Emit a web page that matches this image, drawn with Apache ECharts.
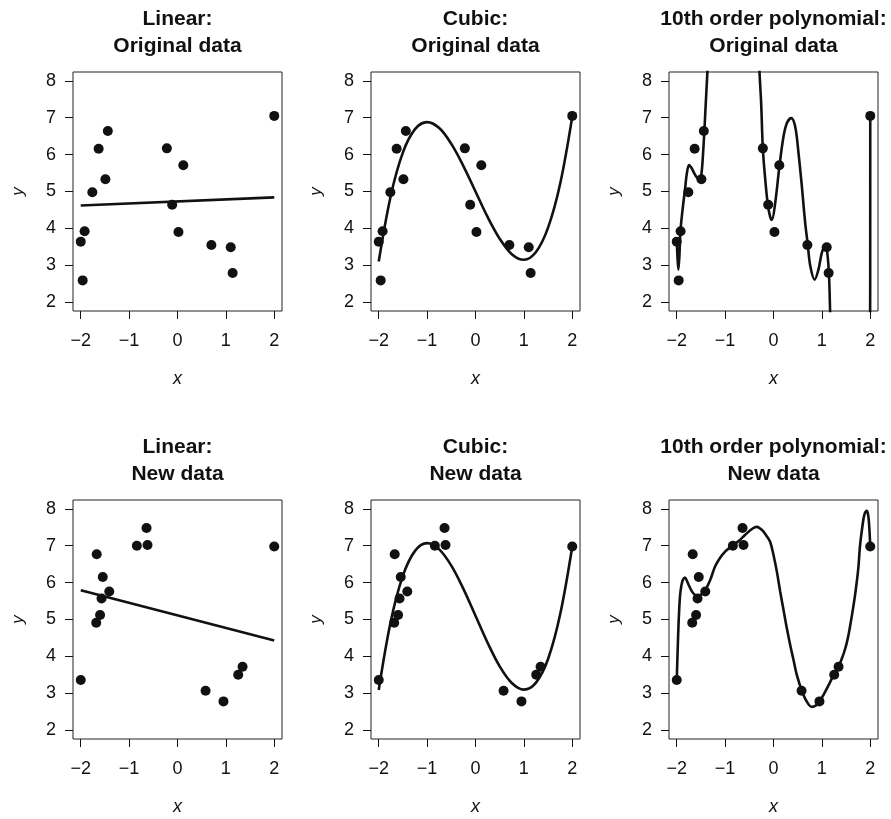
<!DOCTYPE html>
<html><head><meta charset="utf-8">
<script src="https://cdn.jsdelivr.net/npm/echarts@6/dist/echarts.min.js"></script>
<style>html,body{margin:0;padding:0;background:#fff}#c{width:891px;height:819px}</style>
</head><body><div id="c"></div>
<script>
// ---------- data ----------
const panelTitles = [
  ["Linear:", "Original data"], ["Cubic:", "Original data"], ["10th order polynomial:", "Original data"],
  ["Linear:", "New data"], ["Cubic:", "New data"], ["10th order polynomial:", "New data"]
];
const xTicks = [-2, -1, 0, 1, 2];
const yTicks = [2, 3, 4, 5, 6, 7, 8];

const origX = [-2.00, -1.92, -1.96, -1.76, -1.63, -1.49, -1.44, -0.22, -0.11, 0.02, 0.12, 0.70, 1.10, 1.14, 2.00];
const origY = [3.64, 3.92, 2.59, 4.98, 6.16, 5.33, 6.64, 6.17, 4.64, 3.90, 5.71, 3.55, 3.49, 2.79, 7.05];

const newX = [-2.00, -1.67, -1.68, -1.60, -1.57, -1.545, -1.41, -0.84, -0.64, -0.62, 0.58, 0.95, 1.255, 1.345, 2.00];
const newY = [3.36, 6.77, 4.91, 5.12, 5.57, 6.15, 5.76, 7.00, 7.48, 7.02, 3.07, 2.78, 3.50, 3.72, 6.98];

const linearX = [-2, 2];
const linearOrigY = [4.62, 4.84];
const linearNewY = [5.79, 4.43];

const cubicX = [-2, -1.75, -1.5, -1.25, -1, -0.75, -0.5, -0.25, 0, 0.25, 0.5, 0.75, 1, 1.25, 1.5, 1.75, 2];
const cubicOrigY = [3.10, 4.89, 6.06, 6.69, 6.88, 6.72, 6.29, 5.69, 5.00, 4.31, 3.72, 3.30, 3.15, 3.36, 4.02, 5.21, 7.03];
const cubicNewY = [3.09, 4.96, 6.19, 6.86, 7.07, 6.90, 6.46, 5.83, 5.10, 4.37, 3.73, 3.28, 3.10, 3.29, 3.93, 5.14, 6.98];

const poly10OrigX = [-2.00, -1.986, -1.966, -1.945, -1.924, -1.88, -1.83, -1.79, -1.745, -1.69, -1.62, -1.55, -1.51, -1.48, -1.455, -1.43, -1.40, -1.366, -1.34, -1.30, -1.20,
  -0.40, -0.32, -0.29, -0.255, -0.22, -0.17, -0.117, -0.07, -0.034, 0.034, 0.124, 0.207, 0.276, 0.366, 0.448, 0.517, 0.586, 0.655, 0.71, 0.76, 0.85, 0.93, 1.00, 1.07, 1.10, 1.145, 1.17, 1.20, 1.30,
  1.90, 1.99, 2.00];
const poly10OrigY = [3.75, 3.25, 2.88, 3.25, 3.92, 4.50, 5.05, 5.50, 5.72, 5.63, 5.45, 5.35, 5.36, 5.59, 6.05, 6.62, 7.39, 8.25, 8.90, 10.0, 13.0,
  13.0, 9.20, 8.25, 7.39, 6.16, 5.32, 4.64, 4.32, 4.23, 4.68, 5.70, 6.49, 6.85, 6.99, 6.76, 6.04, 5.14, 4.15, 3.54, 2.98, 2.61, 2.89, 3.34, 3.54, 3.47, 2.79, 1.76, 0.5, -2.0,
  -2.0, -2.0, 7.04];

const poly10NewX = [-2.00, -1.985, -1.966, -1.95, -1.93, -1.90, -1.87, -1.83, -1.79, -1.74, -1.68, -1.62, -1.57, -1.50, -1.41, -1.30, -1.21, -1.10, -1.00, -0.90, -0.83, -0.70, -0.59, -0.48, -0.40, -0.345, -0.28, -0.22, -0.15, -0.07,
  0.00, 0.069, 0.138, 0.207, 0.276, 0.345, 0.414, 0.483, 0.586, 0.69, 0.79, 0.88, 0.95, 1.05, 1.15, 1.24, 1.345, 1.43, 1.48, 1.52, 1.56, 1.60, 1.65, 1.69, 1.75, 1.79, 1.84, 1.88, 1.93, 1.96, 1.98, 2.00];
const poly10NewY = [3.36, 4.00, 4.76, 5.25, 5.67, 5.95, 6.08, 6.14, 6.05, 5.90, 5.75, 5.66, 5.62, 5.67, 5.80, 6.10, 6.43, 6.68, 6.84, 6.95, 7.02, 7.15, 7.29, 7.42, 7.49, 7.51, 7.47, 7.40, 7.28, 7.11,
  6.75, 6.30, 5.76, 5.26, 4.76, 4.31, 3.90, 3.49, 3.07, 2.77, 2.63, 2.67, 2.77, 3.00, 3.25, 3.49, 3.72, 4.00, 4.20, 4.40, 4.65, 4.95, 5.35, 5.70, 6.35, 7.02, 7.55, 7.85, 7.95, 7.80, 7.50, 6.98];

// ---------- layout ----------
const FONT = '"Liberation Sans", Arial, Helvetica, sans-serif';
const INK = '#111';
const gridLefts = [73, 371, 669];
const gridTops = [72, 500];
const GW = 209, GH = 239;

const pairs = (xs, ys) => xs.map((x, i) => [x, ys[i]]);
const pointsSets = [origX, origY, newX, newY];
const fits = [
  [pairs(linearX, linearOrigY), pairs(cubicX, cubicOrigY), pairs(poly10OrigX, poly10OrigY)],
  [pairs(linearX, linearNewY), pairs(cubicX, cubicNewY), pairs(poly10NewX, poly10NewY)]
];
const fmt = v => (v < 0 ? '\u2212' + Math.abs(v) : String(v));

const grid = [], xAxis = [], yAxis = [], series = [], graphic = [];
for (let r = 0; r < 2; r++) {
  for (let c = 0; c < 3; c++) {
    const i = r * 3 + c;
    grid.push({ left: gridLefts[c], top: gridTops[r], width: GW, height: GH, show: true,
      borderColor: '#222', borderWidth: 1, backgroundColor: 'transparent', containLabel: false });
    xAxis.push({ type: 'value', gridIndex: i, min: -2.16, max: 2.16,
      name: 'x', nameLocation: 'middle', nameGap: 68,
      nameTextStyle: { fontFamily: FONT, fontSize: 18, fontStyle: 'italic', color: INK, verticalAlign: 'middle' },
      axisLine: { show: false, onZero: false }, splitLine: { show: false },
      axisTick: { show: true, length: 8, lineStyle: { color: INK, width: 1 }, customValues: xTicks },
      axisLabel: { show: true, margin: 30, verticalAlign: 'middle', fontFamily: FONT, fontSize: 18, color: INK,
        customValues: xTicks, formatter: fmt } });
    yAxis.push({ type: 'value', gridIndex: i, min: 1.76, max: 8.24,
      name: 'y', nameLocation: 'middle', nameGap: 55, nameRotate: 90,
      nameTextStyle: { fontFamily: FONT, fontSize: 17, fontStyle: 'italic', color: INK, verticalAlign: 'middle' },
      axisLine: { show: false, onZero: false }, splitLine: { show: false },
      axisTick: { show: true, length: 8, lineStyle: { color: INK, width: 1 }, customValues: yTicks },
      axisLabel: { show: true, margin: 17, fontFamily: FONT, fontSize: 18, color: INK,
        customValues: yTicks, formatter: fmt } });
    series.push({ type: 'line', xAxisIndex: i, yAxisIndex: i, data: fits[r][c], showSymbol: false,
      smooth: c === 0 ? false : 0.35, clip: true, lineStyle: { color: INK, width: 2.6 }, z: 2, silent: true, animation: false });
    series.push({ type: 'scatter', xAxisIndex: i, yAxisIndex: i, data: pairs(pointsSets[r * 2], pointsSets[r * 2 + 1]),
      symbol: 'circle', symbolSize: 10, itemStyle: { color: INK, opacity: 1 }, z: 3, silent: true, animation: false });
    const cx = gridLefts[c] + GW / 2;
    const ty = gridTops[r] - 53;
    graphic.push({ type: 'text', x: cx, y: ty, style: { text: panelTitles[i][0], font: 'bold 21px ' + FONT,
      fill: INK, textAlign: 'center', textVerticalAlign: 'middle' } });
    graphic.push({ type: 'text', x: cx, y: ty + 27, style: { text: panelTitles[i][1], font: 'bold 21px ' + FONT,
      fill: INK, textAlign: 'center', textVerticalAlign: 'middle' } });
  }
}

const chart = echarts.init(document.getElementById('c'), null, { renderer: 'canvas' });
chart.setOption({ animation: false, backgroundColor: '#fff', grid, xAxis, yAxis, series, graphic });
</script>
</body></html>
